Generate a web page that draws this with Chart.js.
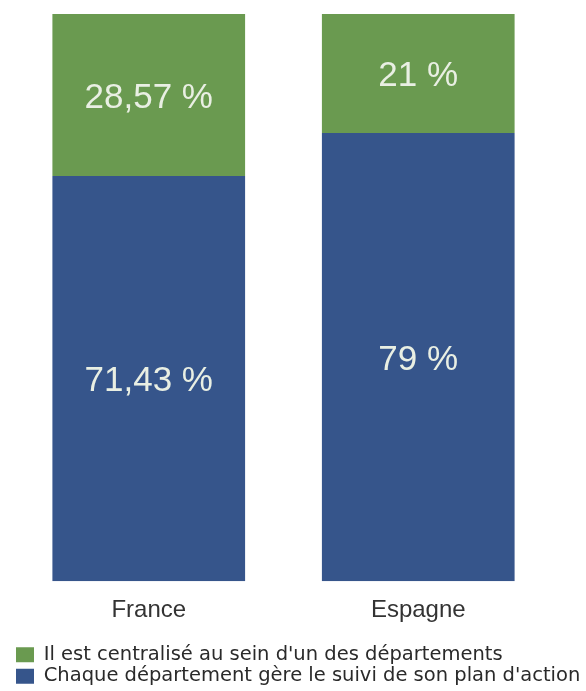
<!DOCTYPE html>
<html>
<head>
<meta charset="utf-8">
<script src="https://cdn.jsdelivr.net/npm/chart.js@4.4.1/dist/chart.umd.min.js"></script>
<style>
  html, body { margin: 0; padding: 0; background: #fff; }
  #wrap { width: 586px; height: 691px; position: relative; }
</style>
</head>
<body>
<div id="wrap"><canvas id="chart"></canvas></div>
<script>
// values
var pays = ['France', 'Espagne'];
var centralise = [28.57, 21];
var chaqueDept = [71.43, 79];
var legendeCentralise = "Il est centralisé au sein d'un des départements";
var legendeChaque = "Chaque département gère le suivi de son plan d'action";

var vert = '#6a9a50';
var bleu = '#36558b';

// écrit la valeur au milieu de chaque segment
var etiquettes = {
    id: 'etiquettes',
    afterDatasetsDraw: function(chart) {
        var ctx = chart.ctx;
        ctx.save();
        ctx.font = '35px "Liberation Sans", Arial, sans-serif';
        ctx.fillStyle = '#e9efe3';
        ctx.textAlign = 'center';
        ctx.textBaseline = 'middle';
        chart.data.datasets.forEach(function(ds, i) {
            chart.getDatasetMeta(i).data.forEach(function(bar, j) {
                var txt = String(ds.data[j]).replace('.', ',') + ' %';
                ctx.fillText(txt, bar.x, (bar.y + bar.base) / 2 + 3);
            });
        });
        ctx.restore();
    }
};

var chart = new Chart(document.getElementById('chart'), {
    type: 'bar',
    data: {
        labels: pays,
        // bleu en bas de la pile, vert au-dessus
        datasets: [
            { label: legendeChaque, data: chaqueDept, backgroundColor: bleu },
            { label: legendeCentralise, data: centralise, backgroundColor: vert }
        ]
    },
    options: {
        responsive: true,
        maintainAspectRatio: false,
        animation: false,
        layout: { padding: { top: 14, left: 14, right: 0, bottom: -5 } },
        datasets: { bar: { categoryPercentage: 1, barPercentage: 0.715 } },
        scales: {
            x: {
                stacked: true,
                grid: { display: false, drawTicks: false },
                border: { display: false },
                ticks: {
                    padding: 15,
                    color: '#333',
                    font: { family: '"Liberation Sans", Arial, sans-serif', size: 24 }
                },
                // un peu d'air entre les pays et la légende
                afterFit: function(scale) { scale.height += 3; }
            },
            y: {
                stacked: true,
                position: 'right',
                min: 0,
                max: 100,
                // axe invisible, sert juste de marge à droite (la légende n'est pas rognée)
                ticks: { display: false },
                grid: { display: false, drawTicks: false },
                border: { display: false },
                afterFit: function(scale) { scale.width = 33; }
            }
        },
        plugins: {
            tooltip: { enabled: false },
            legend: {
                position: 'bottom',
                align: 'start',
                reverse: true,
                labels: {
                    boxWidth: 18,
                    boxHeight: 15,
                    padding: 2,
                    color: '#2a2a2a',
                    font: { family: '"DejaVu Sans", sans-serif', size: 19.5 }
                }
            }
        }
    },
    plugins: [etiquettes]
});
</script>
</body>
</html>
